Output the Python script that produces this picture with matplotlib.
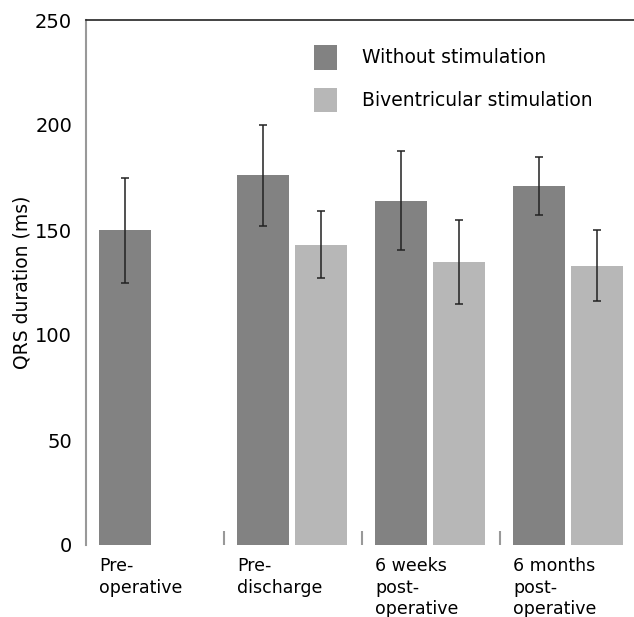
import numpy as np
import matplotlib
matplotlib.use('Agg')
import matplotlib.pyplot as plt
from matplotlib.transforms import blended_transform_factory

groups = ['Pre-\noperative', 'Pre-\ndischarge', '6 weeks\npost-\noperative', '6 months\npost-\noperative']
without_mean = [150, 176, 164, 171]
without_err = [25, 24, 23.5, 14]
biv_mean = [np.nan, 143, 135, 133]
biv_err = [np.nan, 16, 20, 17]

dark = '#828282'
light = '#b7b7b7'

fig = plt.figure(figsize=(6.34, 6.17), dpi=100)
ax = fig.add_axes([86/634, 72/617, 548/634, 525/617])

x = np.arange(len(groups))
w = 0.377
off_dark = 0.094
off_light = 0.094 + w + 0.043
ekw = dict(ecolor='#222222', elinewidth=1.1, capsize=3, capthick=1.1)

ax.bar(x + off_dark, without_mean, width=w, align='edge', color=dark,
       yerr=without_err, error_kw=ekw, label='Without stimulation')
ax.bar(x + off_light, biv_mean, width=w, align='edge', color=light,
       yerr=biv_err, error_kw=ekw, label='Biventricular stimulation')

ax.set_xlim(0, 548/138)
ax.set_ylim(0, 250)
ax.set_yticks([0, 50, 100, 150, 200, 250])
ax.tick_params(axis='y', which='major', length=0, pad=10, labelsize=14)
ax.set_yticks([50, 150], minor=True)
ax.tick_params(axis='y', which='minor', direction='in', length=9.4, width=1, color='#222222')

ax.set_xticks([])
ax.set_xticks([1, 2, 3], minor=True)
ax.tick_params(axis='x', which='minor', direction='in', length=10, width=1.5, color='#999999')

ax.spines['right'].set_visible(False)
ax.spines['bottom'].set_visible(False)
ax.spines['left'].set_color('#999999')
ax.spines['left'].set_linewidth(1.5)
ax.spines['top'].set_color('#222222')
ax.spines['top'].set_linewidth(1.2)

ax.set_ylabel('QRS duration (ms)', fontsize=13.5, labelpad=2.5)

tr = blended_transform_factory(ax.transData, ax.transAxes)
for i, g in enumerate(groups):
    ax.text(i + off_dark, -0.023, g, transform=tr, ha='left', va='top', fontsize=12.5,
            linespacing=1.25, clip_on=False)

ax.legend(loc='upper left', bbox_to_anchor=((314-86)/548, (545-45)/525), frameon=False,
          fontsize=13.5, borderaxespad=0, borderpad=0, handlelength=1.25, handleheight=1.65,
          handletextpad=1.3, labelspacing=0.95)

fig.savefig('out.png', dpi=100)
